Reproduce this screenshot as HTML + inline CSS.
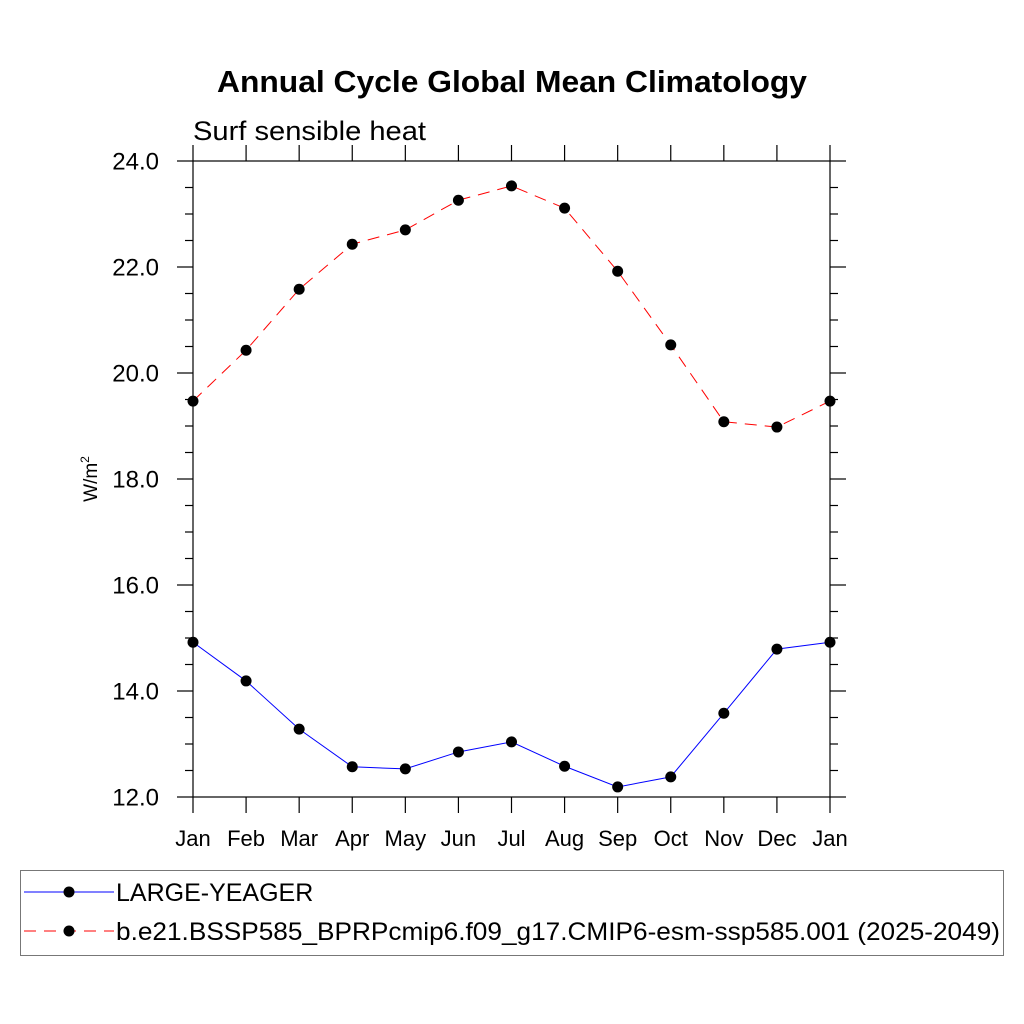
<!DOCTYPE html>
<html><head><meta charset="utf-8"><style>
html,body{margin:0;padding:0;background:#fff;}
svg{display:block;font-family:"Liberation Sans",sans-serif;}
</style></head><body>
<svg id="chart" width="1024" height="1024" viewBox="0 0 1024 1024" xmlns="http://www.w3.org/2000/svg">
<text x="512" y="92" text-anchor="middle" font-size="31" font-weight="bold" textLength="590" lengthAdjust="spacingAndGlyphs">Annual Cycle Global Mean Climatology</text>
<text x="193" y="140" font-size="27" textLength="233" lengthAdjust="spacingAndGlyphs">Surf sensible heat</text>
<text transform="translate(97,479) rotate(-90)" text-anchor="middle" font-size="19">W/m<tspan dy="-8" font-size="12">2</tspan></text>
<g id="axes"></g>
<g id="series"></g>
<g>
<rect x="20.5" y="870.5" width="983" height="85" fill="none" stroke="#777" stroke-width="1"/>
<g>
<line x1="24" y1="892" x2="114" y2="892" stroke="#0000ff" stroke-width="1"/>
<circle cx="69" cy="892" r="5.5" fill="#000"/>
<text x="116" y="901" font-size="25">LARGE-YEAGER</text>
</g>
<g>
<line x1="24" y1="931" x2="114" y2="931" stroke="#ff0000" stroke-width="1" stroke-dasharray="12,8"/>
<circle cx="69" cy="931" r="5.5" fill="#000"/>
<text x="116" y="940" font-size="25" textLength="884" lengthAdjust="spacingAndGlyphs">b.e21.BSSP585_BPRPcmip6.f09_g17.CMIP6-esm-ssp585.001 (2025-2049)</text>
</g>
</g>
</svg>
<script>
const months = ["Jan","Feb","Mar","Apr","May","Jun","Jul","Aug","Sep","Oct","Nov","Dec","Jan"];
const blueValues = [14.92,14.19,13.28,12.57,12.53,12.85,13.04,12.58,12.19,12.38,13.58,14.79,14.92];
const redValues = [19.47,20.43,21.58,22.43,22.70,23.26,23.53,23.11,21.92,20.53,19.08,18.98,19.47];
const yTicks = [12,14,16,18,20,22,24];
const yTickLabels = ["12.0","14.0","16.0","18.0","20.0","22.0","24.0"];

const NS="http://www.w3.org/2000/svg";
const X0=193,X1=830,Y0=797,Y1=161,YMIN=12,YMAX=24;
const xs=i=>X0+(X1-X0)*i/(months.length-1);
const ys=v=>Y0-(v-YMIN)/(YMAX-YMIN)*(Y0-Y1);
function mk(tag,attrs,parent){const e=document.createElementNS(NS,tag);for(const k in attrs)e.setAttribute(k,attrs[k]);parent.appendChild(e);return e;}
const axes=document.getElementById('axes');
const frame=mk('rect',{x:X0,y:Y1,width:X1-X0,height:Y0-Y1,fill:'none',stroke:'#000','stroke-width':1.2},axes);


months.forEach((m,i)=>{
  const x=xs(i);
  mk('line',{x1:x,y1:Y0,x2:x,y2:Y0+16,stroke:'#000','stroke-width':1.2},axes);
  mk('line',{x1:x,y1:Y1,x2:x,y2:Y1-16,stroke:'#000','stroke-width':1.2},axes);
  const t=mk('text',{x:x,y:Y0+49,'text-anchor':'middle','font-size':22},axes);
  t.textContent=m;
  
  
});
for(let v=YMIN;v<=YMAX+1e-9;v+=0.5){
  const y=ys(v);const major=Math.abs(v-Math.round(v/2)*2)<1e-9;
  const L=major?16:8;
  mk('line',{x1:X0-L,y1:y,x2:X0,y2:y,stroke:'#000','stroke-width':1.2},axes);
  mk('line',{x1:X1,y1:y,x2:X1+L,y2:y,stroke:'#000','stroke-width':1.2},axes);
}
yTicks.forEach((v,i)=>{
  const t=mk('text',{x:X0-34,y:ys(v)+8.5,'text-anchor':'end','font-size':24},axes);
  t.textContent=yTickLabels[i];
  
  
});
const series=document.getElementById('series');
function drawSeries(vals,color,dash,name){
  const g=mk('g',{},series);
  
  
  const pts=vals.map((v,i)=>xs(i)+','+ys(v)).join(' ');
  const attrs={points:pts,fill:'none',stroke:color,'stroke-width':1};
  if(dash)attrs['stroke-dasharray']=dash;
  mk('polyline',attrs,g);
  vals.forEach((v,i)=>{
    const c=mk('circle',{cx:xs(i),cy:ys(v),r:5.5,fill:'#000'},g);
    
    
  });
}
drawSeries(redValues,'#ff0000','12,8','series-ssp585');
drawSeries(blueValues,'#0000ff',null,'series-large-yeager');
</script>
</body></html>
